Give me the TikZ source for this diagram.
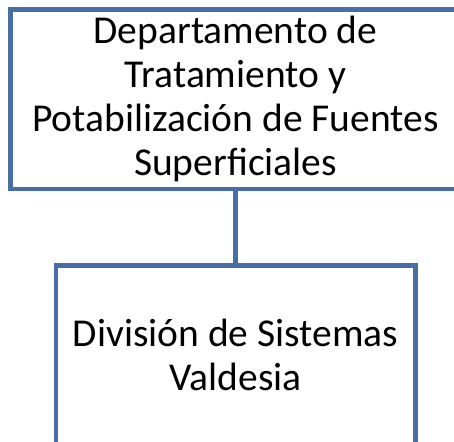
\documentclass[tikz,border=0pt]{standalone}
\usepackage{fontspec}
\setmainfont{Carlito}
\usepackage{xcolor}
\usepackage{tikz}
\usetikzlibrary{positioning}
\definecolor{cline}{HTML}{476FA6}
\definecolor{ctext}{HTML}{000000}

\begin{document}
\begin{tikzpicture}[x=1pt,y=-1pt]
  \useasboundingbox (0,0) rectangle (454,441);
  \clip (0,0) rectangle (454,441);
  \node[draw=cline,fill=white,text=ctext,line width=4.5pt,
    minimum width=450.5pt,minimum height=179.5pt,inner sep=0pt,
    font=\fontsize{39.5}{44}\selectfont,align=center] (dept) at (235.5,99.25)
    {Departamento de\\Tratamiento y\\Potabilización de Fuentes\\Superficiales};
  \node[draw=cline,fill=white,text=ctext,line width=4.5pt,
    minimum width=359.5pt,minimum height=179.5pt,inner sep=0pt,
    font=\fontsize{39.5}{44}\selectfont,align=center,below=72pt of dept] (div)
    {División de Sistemas\\Valdesia};
  \draw[cline,line width=4.5pt] (dept.south) -- (div.north);
\end{tikzpicture}
\end{document}
